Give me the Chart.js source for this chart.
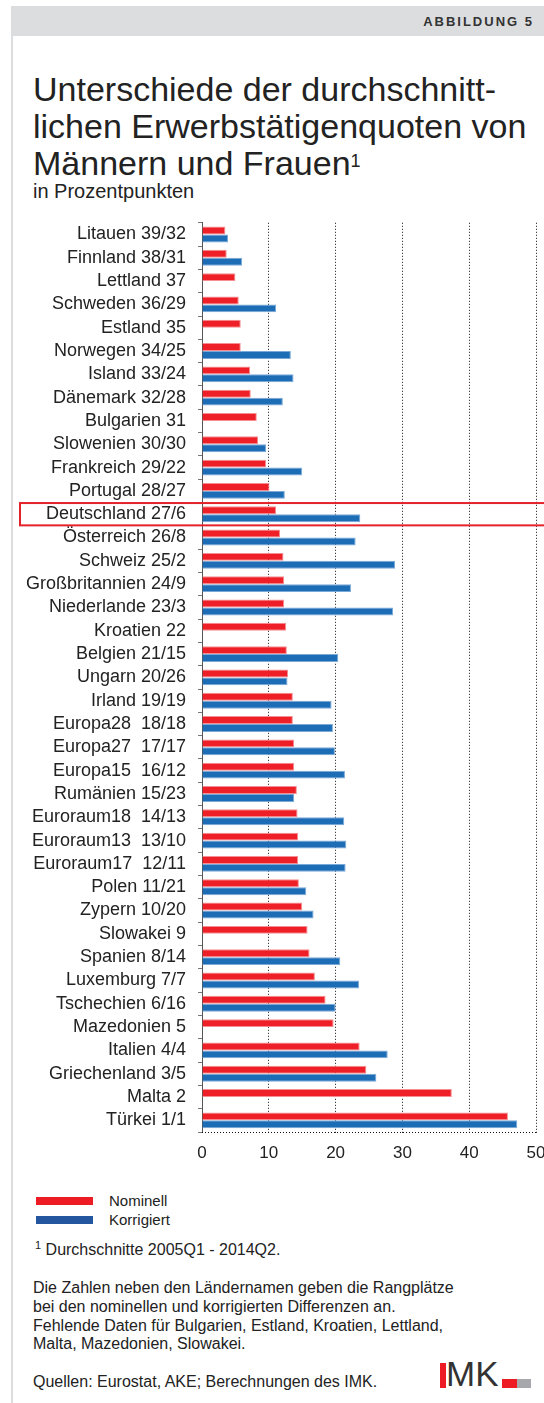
<!DOCTYPE html>
<html lang="de">
<head>
<meta charset="utf-8">
<script src="https://cdn.jsdelivr.net/npm/chart.js@4.4.1/dist/chart.umd.min.js"></script>
<style>
  html, body { margin: 0; padding: 0; background: #fff; }
  body { width: 544px; height: 1403px; position: relative; overflow: hidden;
         font-family: 'Liberation Sans', Arial, sans-serif; color: #222; }
  .band { position: absolute; left: 11px; top: 6px; width: 533px; height: 30px; background: #dcdddf; }
  .band span { position: absolute; right: 10px; top: 8px; font-size: 13px; font-weight: bold;
               letter-spacing: 2px; color: #333; }
  .leftline { position: absolute; left: 11px; top: 36px; width: 2px; height: 1367px; background: #dcdddf; }
  .title { position: absolute; left: 33px; top: 71px; font-size: 34px; line-height: 37px; color: #222; }
  .title sup { font-size: 18px; position: relative; top: -2px; vertical-align: top; }
  .sub { position: absolute; left: 33px; top: 180px; font-size: 20px; color: #222; }
  #chartBox { position: absolute; left: 0; top: 200px; width: 570px; height: 970px; }
  .leg { position: absolute; left: 36px; font-size: 15px; }
  .leg i { position: absolute; left: 0; width: 57px; height: 8px; }
  .leg b { position: absolute; left: 73px; font-weight: normal; white-space: nowrap; }
  .note { position: absolute; left: 33px; font-size: 16px; line-height: 18.8px; white-space: nowrap; }
  .note sup { font-size: 11px; }
  .logo-i { position: absolute; left: 440px; top: 1363px; width: 6px; height: 25px; background: #ed1c24; }
  .logo-mk { position: absolute; left: 446px; top: 1356px; font-size: 35px; line-height: 35px; color: #333; }
  .logo-r { position: absolute; left: 502px; top: 1379px; width: 15px; height: 9px; background: #ed1c24; }
  .logo-g { position: absolute; left: 517px; top: 1379px; width: 14px; height: 9px; background: #a7a8ab; }
</style>
</head>
<body>
<div class="band"><span>ABBILDUNG 5</span></div>
<div class="leftline"></div>
<div class="title">Unterschiede der durchschnitt-<br>lichen Erwerbstätigenquoten von<br>Männern und Frauen<sup>1</sup></div>
<div class="sub">in Prozentpunkten</div>
<div id="chartBox"><canvas id="barChart" width="570" height="970"></canvas></div>

<div class="leg" style="top:1192px"><i style="background:#ed1c24;top:5px"></i><b>Nominell</b></div>
<div class="leg" style="top:1211px"><i style="background:#24569f;top:5px"></i><b>Korrigiert</b></div>

<div class="note" style="left:35px;top:1236px"><sup>1</sup> Durchschnitte 2005Q1 - 2014Q2.</div>
<div class="note" style="top:1279px">Die Zahlen neben den Ländernamen geben die Rangplätze<br>bei den nominellen und korrigierten Differenzen an.<br>Fehlende Daten für Bulgarien, Estland, Kroatien, Lettland,<br>Malta, Mazedonien, Slowakei.</div>
<div class="note" style="top:1373px">Quellen: Eurostat, AKE; Berechnungen des IMK.</div>

<div class="logo-i"></div><div class="logo-mk">MK</div><div class="logo-r"></div><div class="logo-g"></div>

<script>
const countries = [
  'Litauen 39/32', 'Finnland 38/31', 'Lettland 37', 'Schweden 36/29', 'Estland 35',
  'Norwegen 34/25', 'Island 33/24', 'Dänemark 32/28', 'Bulgarien 31', 'Slowenien 30/30',
  'Frankreich 29/22', 'Portugal 28/27', 'Deutschland 27/6', 'Österreich 26/8', 'Schweiz 25/2',
  'Großbritannien 24/9', 'Niederlande 23/3', 'Kroatien 22', 'Belgien 21/15', 'Ungarn 20/26',
  'Irland 19/19', 'Europa28  18/18', 'Europa27  17/17', 'Europa15  16/12', 'Rumänien 15/23',
  'Euroraum18  14/13', 'Euroraum13  13/10', 'Euroraum17  12/11', 'Polen 11/21', 'Zypern 10/20',
  'Slowakei 9', 'Spanien 8/14', 'Luxemburg 7/7', 'Tschechien 6/16', 'Mazedonien 5',
  'Italien 4/4', 'Griechenland 3/5', 'Malta 2', 'Türkei 1/1'
];

const nominell = [
  3.5, 3.7, 5.0, 5.5, 5.8, 5.8, 7.2, 7.3, 8.2, 8.4,
  9.6, 10.1, 11.1, 11.7, 12.2, 12.3, 12.3, 12.6, 12.7, 12.9,
  13.6, 13.6, 13.8, 13.8, 14.2, 14.3, 14.4, 14.4, 14.5, 15.0,
  15.8, 16.1, 16.9, 18.5, 19.7, 23.6, 24.6, 37.4, 45.8
];

const korrigiert = [
  3.9, 6.0, null, 11.1, null, 13.3, 13.7, 12.1, null, 9.6,
  15.0, 12.4, 23.7, 23.0, 28.9, 22.3, 28.6, null, 20.4, 12.8,
  19.4, 19.6, 19.9, 21.4, 13.8, 21.3, 21.6, 21.5, 15.6, 16.7,
  null, 20.7, 23.5, 20.0, null, 27.8, 26.1, null, 47.2
];

const xTicks = [0, 10, 20, 30, 40, 50];
const highlight = 'Deutschland 27/6';

// gepunktete Grundlinie + roter Rahmen um Deutschland
const decorations = {
  id: 'decorations',
  afterDatasetsDraw(chart) {
    const ctx = chart.ctx;
    const area = chart.chartArea;
    ctx.save();
    ctx.strokeStyle = '#111';
    ctx.lineWidth = 1;
    ctx.setLineDash([1, 2]);
    ctx.beginPath();
    ctx.moveTo(area.left, Math.round(area.bottom) + 0.5);
    ctx.lineTo(area.right, Math.round(area.bottom) + 0.5);
    ctx.stroke();
    ctx.setLineDash([]);

    const y = chart.scales.y;
    const idx = countries.indexOf(highlight);
    const cy = y.getPixelForValue(idx);
    const half = (y.height / countries.length) / 2 - 0.5;
    ctx.strokeStyle = '#e4222a';
    ctx.lineWidth = 2;
    ctx.strokeRect(20, cy - half, chart.width + 10, half * 2);
    ctx.restore();
  }
};

Chart.defaults.font.family = "'Liberation Sans', Arial, sans-serif";
Chart.defaults.color = '#222';

new Chart(document.getElementById('barChart'), {
  type: 'bar',
  data: {
    labels: countries,
    datasets: [{
      label: 'Nominell',
      data: nominell,
      backgroundColor: '#ee1f26',
      borderColor: '#f58e92',
      borderWidth: 1
    }, {
      label: 'Korrigiert',
      data: korrigiert,
      backgroundColor: '#1c6db6',
      borderColor: '#7aa9d8',
      borderWidth: 1
    }]
  },
  options: {
    indexAxis: 'y',
    responsive: false,
    animation: false,
    devicePixelRatio: 1,
    categoryPercentage: 0.68,
    barPercentage: 1,
    layout: { padding: { top: 17, right: 34, left: 0, bottom: 0 } },
    scales: {
      y: {
        grid: {
          offset: true,
          drawOnChartArea: false,
          tickLength: 4,
          color: '#777'
        },
        border: { color: '#555', width: 1 },
        ticks: {
          autoSkip: false,
          padding: 12,
          font: { size: 18 },
          color: '#222'
        },
        afterFit: s => { s.width = 202; }
      },
      x: {
        min: 0,
        max: 50,
        afterBuildTicks: s => { s.ticks = xTicks.map(v => ({ value: v })); },
        grid: {
          color: ctx => ctx.tick && ctx.tick.value === 0 ? 'rgba(0,0,0,0)' : '#111',
          tickColor: '#333',
          lineWidth: 1,
          tickLength: 3,
          tickBorderDash: [1, 2]
        },
        border: { display: false, dash: [1, 2] },
        ticks: {
          padding: 8,
          font: { size: 17 },
          color: '#222'
        },
        afterFit: s => { s.height = 38; }
      }
    },
    plugins: {
      legend: { display: false },
      tooltip: { enabled: false }
    }
  },
  plugins: [decorations]
});
</script>
</body>
</html>
